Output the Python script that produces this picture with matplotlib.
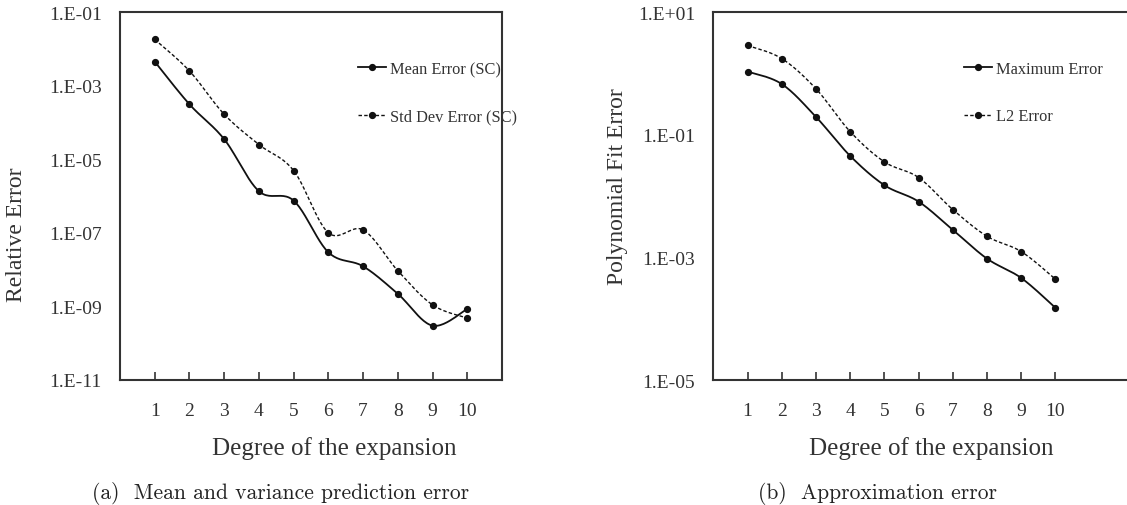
import numpy as np
import matplotlib
matplotlib.use("Agg")
import matplotlib.pyplot as plt
from matplotlib.lines import Line2D
from matplotlib.ticker import FixedLocator, FuncFormatter

# Degree of the polynomial chaos expansion
degree = [1, 2, 3, 4, 5, 6, 7, 8, 9, 10]

# (a) Relative error of the stochastic collocation estimates
mean_err = [4.5e-3, 3.1e-4, 3.5e-5, 1.35e-6, 7.5e-7, 2.95e-8, 1.23e-8, 2.2e-9, 3.0e-10, 8.5e-10]
std_err = [1.8e-2, 2.5e-3, 1.66e-4, 2.5e-5, 4.9e-6, 1.0e-7, 1.2e-7, 9.3e-9, 1.1e-9, 4.8e-10]

# (b) Polynomial fit error
max_err = [1.07, 0.67, 0.195, 0.045, 0.015, 8.1e-3, 2.8e-3, 9.5e-4, 4.6e-4, 1.5e-4]
l2_err = [2.85, 1.74, 0.56, 0.112, 0.036, 0.020, 6.0e-3, 2.2e-3, 1.24e-3, 4.4e-4]

W, H = 1127, 506
fig = plt.figure(figsize=(W / 100, H / 100), dpi=100)

txt = "#333333"
serif = "Liberation Serif"


def px(x0, y_top, w, h):
    # axes rectangle given in pixel units (origin at the top left)
    return [x0 / W, 1 - (y_top + h) / H, w / W, h / H]


def smooth(ax, x, y, n=24):
    # Catmull-Rom spline through the points, computed in display space
    pts = ax.transData.transform(np.column_stack([x, y]))
    P = np.vstack([pts[0], pts, pts[-1]])
    t = np.linspace(0, 1, n, endpoint=False)[:, None]
    segs = []
    for i in range(1, len(P) - 2):
        p0, p1, p2, p3 = P[i - 1], P[i], P[i + 1], P[i + 2]
        segs.append(0.5 * (2 * p1 + (-p0 + p2) * t
                           + (2 * p0 - 5 * p1 + 4 * p2 - p3) * t ** 2
                           + (-p0 + 3 * p1 - 3 * p2 + p3) * t ** 3))
    segs.append(P[-2][None])
    xy = ax.transData.inverted().transform(np.vstack(segs))
    return xy[:, 0], xy[:, 1]


def fmt_exp(v, pos):
    return "1.E{:+03d}".format(int(round(np.log10(v))))


def setup(ax, xmax, ylo, yhi):
    ax.set_yscale("log")
    ax.set_xlim(0, xmax)
    ax.set_ylim(ylo, yhi)
    ax.yaxis.set_major_locator(FixedLocator([10.0 ** k for k in range(int(np.log10(ylo)), int(np.log10(yhi)) + 1, 2)]))
    ax.yaxis.set_minor_locator(FixedLocator([]))
    ax.yaxis.set_major_formatter(FuncFormatter(fmt_exp))
    ax.set_xticks(degree)
    ax.tick_params(axis="x", direction="in", length=6, width=1.2, color="#333333",
                   pad=16, labelsize=14, labelcolor=txt)
    ax.tick_params(axis="y", length=0, pad=13, labelsize=14, labelcolor=txt)
    for lab in ax.get_xticklabels() + ax.get_yticklabels():
        lab.set_fontfamily(serif)
    for s in ax.spines.values():
        s.set_linewidth(1.5)
        s.set_color("#333333")


def draw(ax, x, y, dashed):
    xs, ys = smooth(ax, x, y)
    ls = (0, (2.5, 1.6)) if dashed else "-"
    lw = 1.0 if dashed else 1.3
    ax.plot(xs, ys, color="#111111", lw=lw, linestyle=ls)
    ax.plot(x, y, "o", color="#111111", ms=4.2)
    return Line2D([], [], color="#111111", lw=lw, linestyle=ls, marker="o", ms=4.2)


def add_legend(handles, labels, x_px):
    fig.legend(handles, labels, loc="upper left",
               bbox_to_anchor=(x_px / W, 1 - 54 / H), frameon=False, borderpad=0,
               handlelength=1.7, handletextpad=0.25, labelspacing=1.9, numpoints=1,
               prop={"family": serif, "size": 11.8}, labelcolor=txt)


# Left panel
ax1 = fig.add_axes(px(120, 13, 382, 368))
setup(ax1, 11, 1e-11, 1e-1)
h1 = draw(ax1, degree, mean_err, False)
h2 = draw(ax1, degree, std_err, True)
add_legend([h1, h2], ["Mean Error (SC)", "Std Dev Error (SC)"], 350)

# Right panel, running off the right edge of the figure
ax2 = fig.add_axes(px(713.3, 13, 427.75, 368))
setup(ax2, 12.5, 1e-5, 1e1)
h3 = draw(ax2, degree, max_err, False)
h4 = draw(ax2, degree, l2_err, True)
add_legend([h3, h4], ["Maximum Error", "L2 Error"], 956)

# Axis titles
fig.text(16.5 / W, 1 - 234.5 / H, "Relative Error", rotation=90, ha="center", va="center",
         family=serif, size=17, color=txt)
fig.text(617 / W, 1 - 187 / H, "Polynomial Fit Error", rotation=90, ha="center", va="center",
         family=serif, size=17, color=txt)
fig.text(334 / W, 1 - 455.5 / H, "Degree of the expansion", ha="center", va="baseline",
         family=serif, size=18, color=txt)
fig.text(931 / W, 1 - 455.5 / H, "Degree of the expansion", ha="center", va="baseline",
         family=serif, size=18, color=txt)

# Sub-figure captions
fig.text(281 / W, 1 - 493.5 / H, "(a)  Mean and variance prediction error", ha="center", va="center",
         family="cmr10", size=15.5, color="#222222")
fig.text(878 / W, 1 - 493.5 / H, "(b)  Approximation error", ha="center", va="center",
         family="cmr10", size=15.5, color="#222222")

fig.savefig("out.png", dpi=100)
